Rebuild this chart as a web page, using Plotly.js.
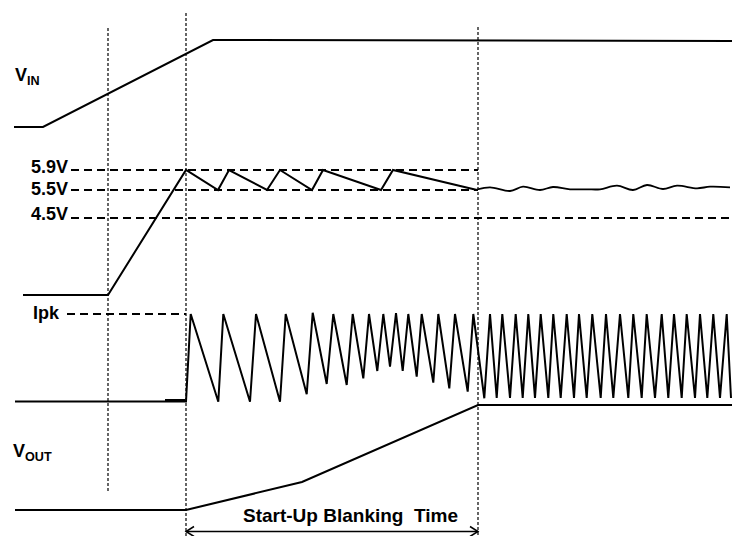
<!DOCTYPE html>
<html><head><meta charset="utf-8">
<script src="https://cdn.plot.ly/plotly-3.0.1.min.js"></script>
<style>html,body{margin:0;padding:0;background:#fff}#chart{width:732px;height:536px}</style>
</head><body><div id="chart"></div>
<script>
// Timing diagram data (time axis and signal levels in diagram units)
const vinT = [14, 43, 213, 732];
const vinV = [127, 127, 40, 41];

const vccT = [23, 108, 186, 218, 229, 267, 280, 312, 323, 381, 393, 477];
const vccV = [295, 295, 170, 190, 170, 190, 170, 190, 170, 190, 170, 190];
const vccRegT = [477, 490, 510, 523, 540, 553, 570, 587, 600, 617, 633, 647, 663, 677, 697, 710, 730];
const vccRegV = [189.5, 187.3, 191, 186.7, 190, 187, 189.3, 189.3, 189.3, 185.7, 190, 185, 189, 185.7, 188.3, 186.7, 187.3];

const iT = [15, 186, 190.7, 218.3, 223.3, 250, 256, 280, 285.7, 306.7, 312.7, 326.7, 333.3, 346.7, 352.7, 363.3, 369, 377.3, 383.3, 390, 396, 402.7, 408.3, 416.7, 421.7, 433.3, 438.3, 449.3, 455, 467.7, 473.3, 484.3,
  490, 496.7, 502.3, 510, 515.7, 522.7, 528.3, 535, 540.7, 548.3, 553.3, 560.7, 566.7, 574, 579, 586.7, 592.3, 600.7, 606, 613.3, 620, 628.3, 633.3, 641.7, 646.7, 655, 661.7, 668.3, 674, 681.7, 686.7, 695, 700, 707.3, 713.3, 720, 726.7, 731];
const iV = [401.5, 401.5, 314, 401.7, 314, 401.7, 314, 401.7, 314, 394.3, 312.7, 384, 314, 385, 314, 378.3, 314, 371, 314, 366.7, 313, 371, 314, 376.7, 314, 382.7, 314, 388.3, 314, 391.7, 314, 398.3,
  314, 398, 314, 398, 314, 398, 314, 398, 314, 398, 314, 398, 314, 398, 314, 398, 314, 398, 314, 398, 314, 398, 314, 398, 314, 398, 314, 398, 314, 398, 314, 398, 314, 398, 314, 398, 314, 398];
const iStepT = [165, 185];
const iStepV = [400.5, 400.5];

const voutT = [15, 186, 302, 478, 732];
const voutV = [510, 510, 482, 405, 405];

// thresholds
const thrNames = ["5.9V", "5.5V", "4.5V"];
const thrLevel = [170, 190, 218];
const thrStart = [71, 71, 71];
const thrEnd = [478, 478, 732];
const thrLabelY = [167, 189, 214];
const ipkLevel = 314;
const ipkRange = [67, 186];

// event markers (time, top, bottom)
const eventT = [108, 186, 478];
const eventTop = [28, 13, 27];
const eventBot = [492, 536, 536];

// blanking-time arrow
const arrowLevel = 531.5;
const arrowT = [186, 478];
const arrowHeadLen = 8;
const arrowHeadHalf = 5;

const signalLabels = [
  {text: "V<sub>IN</sub>", x: 13, y: 76},
  {text: "V<sub>OUT</sub>", x: 11, y: 452},
  {text: "Ipk", x: 31, y: 313}
];
const blankText = "Start-Up Blanking  Time";

const solid = {color: "#000", width: 2};
const traces = [];
function add(x, y, line, extra) {
  traces.push(Object.assign({x: x, y: y, mode: "lines", line: line, hoverinfo: "skip", showlegend: false}, extra || {}));
}
eventT.forEach((t, i) => add([t, t], [eventTop[i], eventBot[i]], {color: "#000", width: 1.2, dash: "3px,2px"}));
thrLevel.forEach((lv, i) => add([thrStart[i], thrEnd[i]], [lv, lv], {color: "#000", width: 2, dash: "8px,5px"}));
add(ipkRange, [ipkLevel, ipkLevel], {color: "#000", width: 2, dash: "8px,5px"});
add(vinT, vinV, solid);
add(vccT, vccV, solid);
add(vccRegT, vccRegV, {color: "#000", width: 1.8, shape: "spline", smoothing: 1});
add(iT, iV, solid);
add(iStepT, iStepV, {color: "#000", width: 3});
add(voutT, voutV, solid);
add(arrowT, [arrowLevel, arrowLevel], {color: "#000", width: 1.5});
add([arrowT[0] + arrowHeadLen, arrowT[0], arrowT[0] + arrowHeadLen], [arrowLevel - arrowHeadHalf, arrowLevel, arrowLevel + arrowHeadHalf], {color: "#000", width: 1.5});
add([arrowT[1] - arrowHeadLen, arrowT[1], arrowT[1] - arrowHeadLen], [arrowLevel - arrowHeadHalf, arrowLevel, arrowLevel + arrowHeadHalf], {color: "#000", width: 1.5});

const font = {family: "Liberation Sans, Arial, sans-serif", size: 18, color: "#000", weight: "bold"};
const annotations = [];
thrNames.forEach((n, i) => annotations.push({text: "<b>" + n + "</b>", x: thrStart[i] - 1, y: thrLabelY[i], xref: "x", yref: "y", xanchor: "right", yanchor: "middle", showarrow: false, font: font}));
signalLabels.forEach(s => annotations.push({text: "<b>" + s.text + "</b>", x: s.x, y: s.y, xref: "x", yref: "y", xanchor: "left", yanchor: "middle", showarrow: false, font: font}));
annotations.push({text: "<b>" + blankText + "</b>", x: 350, y: 515, xref: "x", yref: "y", xanchor: "center", yanchor: "middle", showarrow: false, font: Object.assign({}, font, {size: 19})});

Plotly.newPlot("chart", traces, {
  width: 732, height: 536,
  margin: {l: 0, r: 0, t: 0, b: 0},
  paper_bgcolor: "#fff", plot_bgcolor: "#fff",
  xaxis: {range: [0, 732], visible: false, fixedrange: true},
  yaxis: {range: [536, 0], visible: false, fixedrange: true},
  annotations: annotations,
  showlegend: false
}, {staticPlot: true});
</script></body></html>
